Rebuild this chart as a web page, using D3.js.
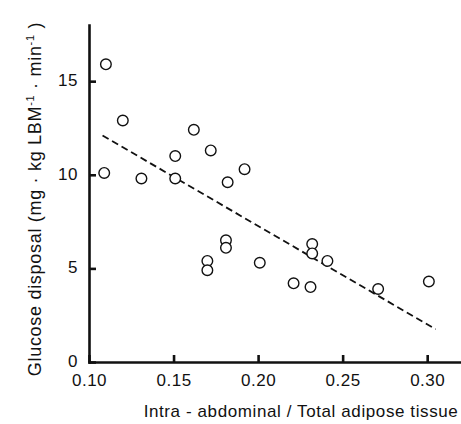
<!DOCTYPE html>
<html>
<head>
<meta charset="utf-8">
<script src="https://cdn.jsdelivr.net/npm/d3@7"></script>
<style>
  body { margin: 0; background: #fff; }
  svg { display: block; font-family: "Liberation Sans", Arial, sans-serif; }
  .tick text { font-size: 17px; fill: #111; letter-spacing: 0.5px; }
</style>
</head>
<body>
<div id="chart"></div>
<script>
// ratio of intra-abdominal to total adipose tissue vs glucose disposal
const ratio = [0.110, 0.109, 0.120, 0.131, 0.151, 0.151, 0.162, 0.172, 0.182, 0.192, 0.181,
  0.181, 0.170, 0.170, 0.201, 0.221, 0.231, 0.232, 0.232, 0.241, 0.271, 0.301];
const disposal = [15.9, 10.1, 12.9, 9.8, 11.0, 9.8, 12.4, 11.3, 9.6, 10.3, 6.5,
  6.1, 5.4, 4.9, 5.3, 4.2, 4.0, 6.3, 5.8, 5.4, 3.9, 4.3];

// regression line end points
const fitX = [0.108, 0.305];
const fitY = [12.1, 1.75];

const xTicks = [0.10, 0.15, 0.20, 0.25, 0.30];
const yTicks = [0, 5, 10, 15];

const W = 461, H = 424;
const margin = { top: 25, right: 0, bottom: 62, left: 89 };

const svg = d3.select("#chart").append("svg").attr("width", W).attr("height", H);

const x = d3.scaleLinear().domain([0.10, 0.32]).range([margin.left, W - margin.right]);
const y = d3.scaleLinear().domain([0, 18]).range([H - margin.bottom, margin.top]);

// axes, ticks pointing inward
const xAxis = svg.append("g")
  .attr("transform", `translate(0,${H - margin.bottom})`)
  .call(d3.axisBottom(x).tickValues(xTicks).tickFormat(d3.format(".2f"))
    .tickSizeInner(-7).tickSizeOuter(0).tickPadding(12));

const yAxis = svg.append("g")
  .attr("transform", `translate(${margin.left},0)`)
  .call(d3.axisLeft(y).tickValues(yTicks).tickFormat(d3.format("d"))
    .tickSizeInner(-7).tickSizeOuter(0).tickPadding(11));
yAxis.selectAll(".tick text").attr("dy", "0.25em");

[xAxis, yAxis].forEach((a) => {
  a.select(".domain").attr("stroke", "#111").attr("stroke-width", 2.6).attr("stroke-linecap", "square");
  a.selectAll(".tick line").attr("stroke", "#111").attr("stroke-width", 2.6);
});

// dashed fit line
svg.append("line")
  .attr("x1", x(fitX[0])).attr("y1", y(fitY[0]))
  .attr("x2", x(fitX[1])).attr("y2", y(fitY[1]))
  .attr("stroke", "#111")
  .attr("stroke-width", 1.8)
  .attr("stroke-dasharray", "7,4");

// open circles
svg.append("g").selectAll("circle")
  .data(ratio.map((r, i) => ({ r, d: disposal[i] })))
  .join("circle")
  .attr("cx", (d) => x(d.r))
  .attr("cy", (d) => y(d.d))
  .attr("r", 5.3)
  .attr("fill", "#fff")
  .attr("stroke", "#111")
  .attr("stroke-width", 1.4);

// axis titles
svg.append("text")
  .attr("x", 301).attr("y", 417)
  .attr("text-anchor", "middle")
  .style("font-size", "17px")
  .style("letter-spacing", "0.6px")
  .style("fill", "#111")
  .text("Intra - abdominal / Total adipose tissue");

const yt = svg.append("text")
  .attr("transform", "translate(41,199) rotate(-90)")
  .attr("text-anchor", "middle")
  .style("font-size", "18px")
  .style("letter-spacing", "0.7px")
  .style("fill", "#111");
yt.append("tspan").text("Glucose disposal (mg \u00b7 kg LBM");
yt.append("tspan").attr("dy", -7).style("font-size", "11px").text("-1");
yt.append("tspan").attr("dy", 7).text(" \u00b7 min");
yt.append("tspan").attr("dy", -7).style("font-size", "11px").text("-1");
yt.append("tspan").attr("dy", 7).text(" )");
</script>
</body>
</html>
